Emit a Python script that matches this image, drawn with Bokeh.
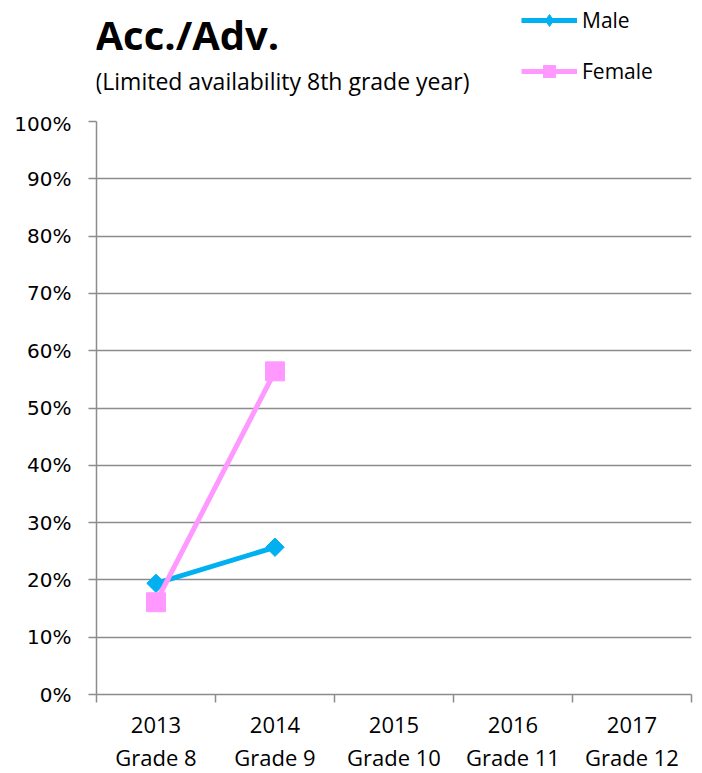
import math
from bokeh.plotting import figure
from bokeh.layouts import column
from bokeh.models import FixedTicker, Range1d, NumeralTickFormatter, Legend, LegendItem, Label
from bokeh.embed import file_html
from bokeh.resources import INLINE

years = ["2013", "2014", "2015", "2016", "2017"]
grades = ["Grade 8", "Grade 9", "Grade 10", "Grade 11", "Grade 12"]
male = [0.194, 0.257]
female = [0.161, 0.564]
y_ticks = [0.0, 0.1, 0.2, 0.3, 0.4, 0.5, 0.6, 0.7, 0.8, 0.9, 1.0]
title_text = "Acc./Adv."
subtitle_text = "(Limited availability 8th grade year)"
series_names = ["Male", "Female"]

MALE_C = "#00B0F0"
FEMALE_C = "#FF99FF"
GRID_C = "#8c8c8c"
W = 700
HEAD_H = 111
B_LEFT = 96
B_RIGHT = 9
FRAME_W = W - B_LEFT - B_RIGHT
NAN = float("nan")

# ---------- header: title, subtitle, legend ----------
head = figure(width=W, height=HEAD_H, output_backend="svg", toolbar_location=None,
              title=None,
              x_range=Range1d(B_LEFT, B_LEFT + FRAME_W), y_range=Range1d(0, HEAD_H),
              frame_width=FRAME_W, frame_height=HEAD_H,
              min_border_left=B_LEFT, min_border_right=B_RIGHT,
              min_border_top=0, min_border_bottom=0)
head.axis.visible = False
head.grid.visible = False
head.outline_line_color = None
head.add_layout(Label(x=B_LEFT - 1, y=HEAD_H - 34, text=title_text, text_font="Open Sans",
                      text_font_size="40px", text_font_style="bold", text_color="black",
                      text_baseline="alphabetic", text_align="left"))
head.add_layout(Label(x=B_LEFT - 1, y=HEAD_H - 80, text=subtitle_text, text_font="Open Sans",
                      text_font_size="23px", text_color="black",
                      text_baseline="alphabetic", text_align="left"))

# legend-only renderers (no visible data; they only supply the legend swatches)
hl_m = head.line([NAN], [NAN], line_color=MALE_C, line_width=5)
hs_m = head.scatter([NAN], [NAN], marker="diamond", size=23,
                    fill_color=MALE_C, line_color=MALE_C)
hl_f = head.line([NAN], [NAN], line_color=FEMALE_C, line_width=5)
hs_f = head.scatter([NAN], [NAN], marker="square", size=15, fill_color=FEMALE_C, line_color=FEMALE_C)
legend = Legend(items=[LegendItem(label=series_names[0], renderers=[hl_m, hs_m]),
                       LegendItem(label=series_names[1], renderers=[hl_f, hs_f])],
                location=(521 - B_LEFT, 25), orientation="vertical",
                label_text_font="Open Sans", label_text_font_size="21px", label_text_color="black",
                glyph_width=56, glyph_height=30, label_height=30, spacing=21, label_standoff=5,
                padding=0, margin=0, border_line_color=None, background_fill_alpha=0)
head.add_layout(legend, "center")

# ---------- main chart ----------
centers = [i + 0.5 for i in range(len(years))]
bounds = [float(i) for i in range(len(years) + 1)]

p = figure(width=W, height=662, output_backend="svg", toolbar_location=None,
           x_range=Range1d(0, len(years)), y_range=Range1d(0, 1),
           frame_width=FRAME_W, frame_height=573,
           min_border_left=B_LEFT, min_border_right=B_RIGHT, min_border_top=10, min_border_bottom=79)
p.outline_line_color = None

p.yaxis.ticker = FixedTicker(ticks=y_ticks)
p.yaxis.formatter = NumeralTickFormatter(format="0%")
p.yaxis.major_label_text_font = "DejaVu Sans"
p.yaxis.major_label_text_font_size = "20px"
p.yaxis.major_label_text_color = "black"
p.yaxis.axis_line_color = GRID_C
p.yaxis.axis_line_width = 1.5
p.yaxis.major_tick_line_color = GRID_C
p.yaxis.major_tick_line_width = 1.5
p.yaxis.major_tick_out = 8
p.yaxis.major_tick_in = 0
p.yaxis.minor_tick_line_color = None
p.yaxis.major_label_standoff = 17

p.xaxis.ticker = FixedTicker(ticks=centers, minor_ticks=bounds)
p.xaxis.major_label_overrides = {c: f"{y}\n{g}" for c, y, g in zip(centers, years, grades)}
p.xaxis.major_label_text_font = "Open Sans"
p.xaxis.major_label_text_font_size = "22px"
p.xaxis.major_label_text_color = "black"
p.xaxis.major_label_text_line_height = 1.12
p.xaxis.axis_line_color = GRID_C
p.xaxis.axis_line_width = 1.5
p.xaxis.major_tick_line_color = None
p.xaxis.major_tick_out = 0
p.xaxis.major_tick_in = 0
p.xaxis.minor_tick_line_color = GRID_C
p.xaxis.minor_tick_line_width = 1.5
p.xaxis.minor_tick_out = 8
p.xaxis.minor_tick_in = 0
p.xaxis.major_label_standoff = 6

p.xgrid.grid_line_color = None
p.ygrid.grid_line_color = GRID_C
p.ygrid.grid_line_width = 1.5

mx = centers[:len(male)]
fx = centers[:len(female)]
p.line(mx, male, line_color=MALE_C, line_width=5)
p.scatter(mx, male, marker="square", angle=math.pi / 4, size=13, fill_color=MALE_C, line_color=MALE_C)
p.line(fx, female, line_color=FEMALE_C, line_width=5)
p.scatter(fx, female, marker="square", size=19, fill_color=FEMALE_C, line_color=FEMALE_C)

layout = column(head, p, spacing=0)
open("out.html", "w").write(file_html(layout, INLINE))
